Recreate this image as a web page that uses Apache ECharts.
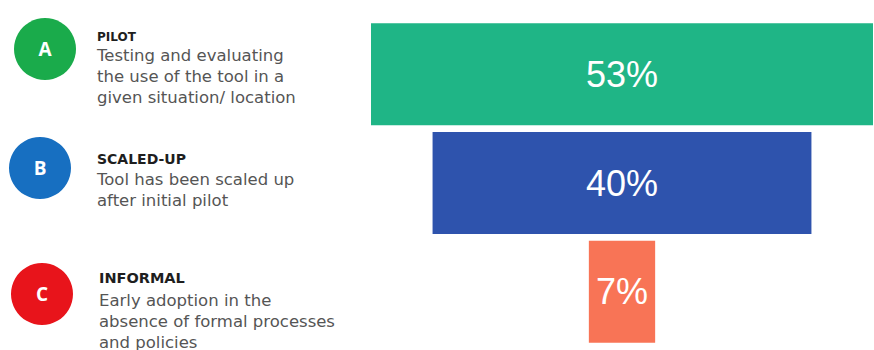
<!DOCTYPE html>
<html>
<head>
<meta charset="utf-8">
<title>Adoption stage</title>
<script src="https://cdn.jsdelivr.net/npm/echarts@6/dist/echarts.min.js"></script>
<style>
  html, body { margin: 0; padding: 0; background: #ffffff; }
  #chart { width: 874px; height: 350px; }
</style>
</head>
<body>
<div id="chart"></div>
<script>
// Adoption stages, top to bottom
const stages = ['PILOT', 'SCALED-UP', 'INFORMAL'];
const shares = [53, 40, 7];
const letters = ['A', 'B', 'C'];
const descriptions = [
  ['Testing and evaluating', 'the use of the tool in a', 'given situation/ location'],
  ['Tool has been scaled up', 'after initial pilot'],
  ['Early adoption in the', 'absence of formal processes', 'and policies']
];

const barColors = ['#1fb586', '#2e53ad', '#f87456'];
const badgeColors = ['#1aab4b', '#176fc1', '#e8141b'];

// Legend block layout on the left
const badgeLayout = [
  { cx: 45, cy: 49, textX: 97, titleY: 37, textY: 55, titleSize: 12 },
  { cx: 40, cy: 168, textX: 97, titleY: 159, textY: 179, titleSize: 14 },
  { cx: 42, cy: 294, textX: 99, titleY: 278, textY: 300, titleSize: 14.5 }
];

const widest = Math.max(...shares);
// Transparent spacer keeps every bar centred on the same axis point
const spacer = shares.map(v => (widest - v) / 2);

const graphics = [];
stages.forEach((name, i) => {
  const L = badgeLayout[i];
  graphics.push({
    type: 'circle',
    shape: { cx: L.cx, cy: L.cy, r: 31 },
    style: { fill: badgeColors[i] }
  });
  graphics.push({
    type: 'text',
    x: L.cx, y: L.cy,
    style: {
      text: letters[i], fill: '#ffffff',
      font: 'bold 19px "Open Sans", sans-serif',
      align: 'center', verticalAlign: 'middle'
    }
  });
  graphics.push({
    type: 'text',
    x: L.textX, y: L.titleY,
    style: {
      text: name, fill: '#1e1e1e',
      font: 'bold ' + L.titleSize + 'px "DejaVu Sans", sans-serif',
      align: 'left', verticalAlign: 'middle'
    }
  });
  graphics.push({
    type: 'text',
    x: L.textX, y: L.textY - 10.5,
    style: {
      text: descriptions[i].join('\n'), fill: '#555555',
      font: '16.5px "DejaVu Sans", sans-serif',
      lineHeight: 21,
      align: 'left', verticalAlign: 'top'
    }
  });
});

const chart = echarts.init(document.getElementById('chart'), null, { renderer: 'svg' });
chart.setOption({
  animation: false,
  grid: { left: 371, right: 1, top: 20, bottom: 4, containLabel: false },
  xAxis: {
    type: 'value', min: 0, max: widest,
    show: false
  },
  yAxis: {
    type: 'category', data: stages, inverse: true,
    show: false
  },
  series: [
    {
      type: 'bar', stack: 'funnel', data: spacer,
      barWidth: 102,
      itemStyle: { color: 'transparent' },
      silent: true
    },
    {
      type: 'bar', stack: 'funnel',
      barWidth: 102,
      data: shares.map((v, i) => ({ value: v, itemStyle: { color: barColors[i] } })),
      label: {
        show: true, position: 'inside',
        formatter: p => p.value + '%',
        color: '#ffffff',
        fontFamily: '"Liberation Sans", Arial, sans-serif',
        fontSize: 36
      }
    }
  ],
  graphic: graphics
});
</script>
</body>
</html>
